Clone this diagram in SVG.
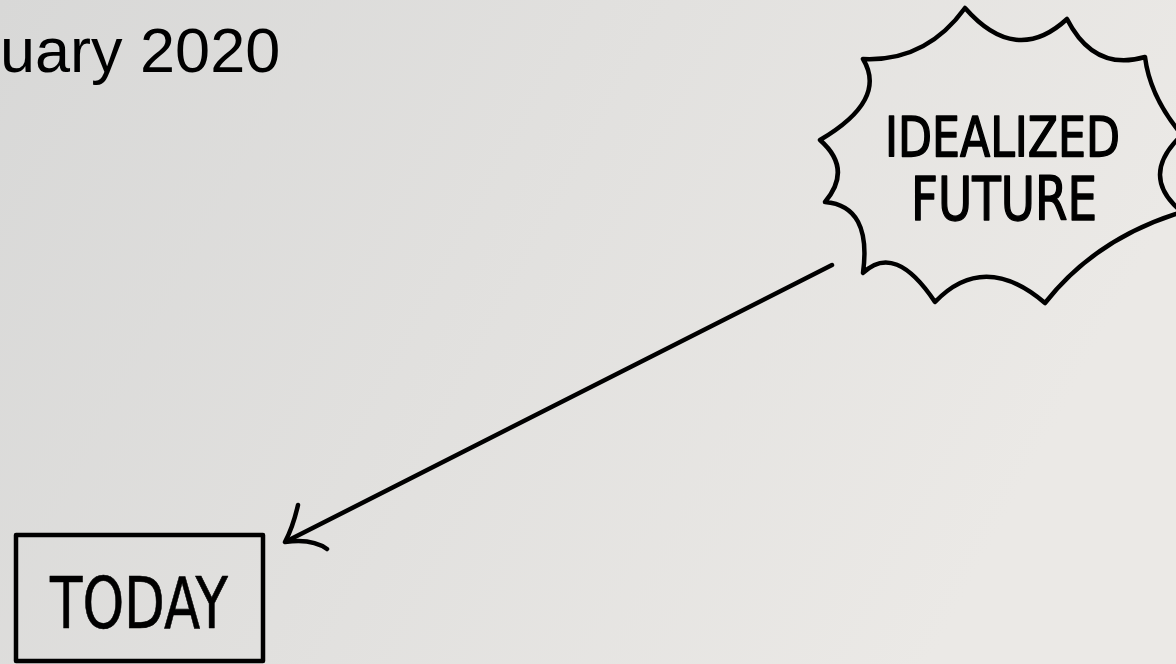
<svg xmlns="http://www.w3.org/2000/svg" width="1176" height="664" viewBox="0 0 1176 664">
<defs>
<linearGradient id="bg" x1="0" y1="0" x2="1" y2="0.3">
<stop offset="0" stop-color="#d8d8d7"/>
<stop offset="1" stop-color="#ebe9e6"/>
</linearGradient>
<style>
.ink{fill:none;stroke:#000;stroke-width:4.5;stroke-linecap:round;stroke-linejoin:round}
.hand{font-family:"DejaVu Sans Condensed","Liberation Sans Narrow","DejaVu Sans",sans-serif;fill:#000;stroke:#000;stroke-linejoin:round}
.title{font-family:"Liberation Sans",Arial,sans-serif;fill:#000}
</style>
</defs>
<rect width="1176" height="664" fill="url(#bg)"/>
<text class="title" x="0" y="72" font-size="63">uary 2020</text>
<g id="future">
<path class="ink" d="M965,8 Q1016,66 1067,19 Q1094,72 1145,57 Q1150,97 1182,135 Q1138,176 1182,212 Q1096,238 1045,303 Q984,251 935,302 Q895,242 863,273 Q872,206 825,202 Q853,169 820,140 Q888,100 863,59 Q926,62 965,8 Z"/>
<text class="hand" x="885" y="156" font-size="55" stroke-width="1.4" textLength="235" lengthAdjust="spacingAndGlyphs">IDEALIZED</text>
<text class="hand" x="911" y="220" font-size="60" stroke-width="1.4" textLength="186" lengthAdjust="spacingAndGlyphs">FUTURE</text>
</g>
<g id="today">
<rect class="ink" x="16" y="535" width="247" height="126"/>
<text class="hand" x="50" y="628" font-size="72" stroke-width="0.6" textLength="178" lengthAdjust="spacingAndGlyphs">TODAY</text>
</g>
<g id="connectors">
<path class="ink" d="M832,265 L287,541"/>
<path class="ink" d="M298,505 Q293,527 285,542 Q312,538 327,549"/>
</g>
</svg>
